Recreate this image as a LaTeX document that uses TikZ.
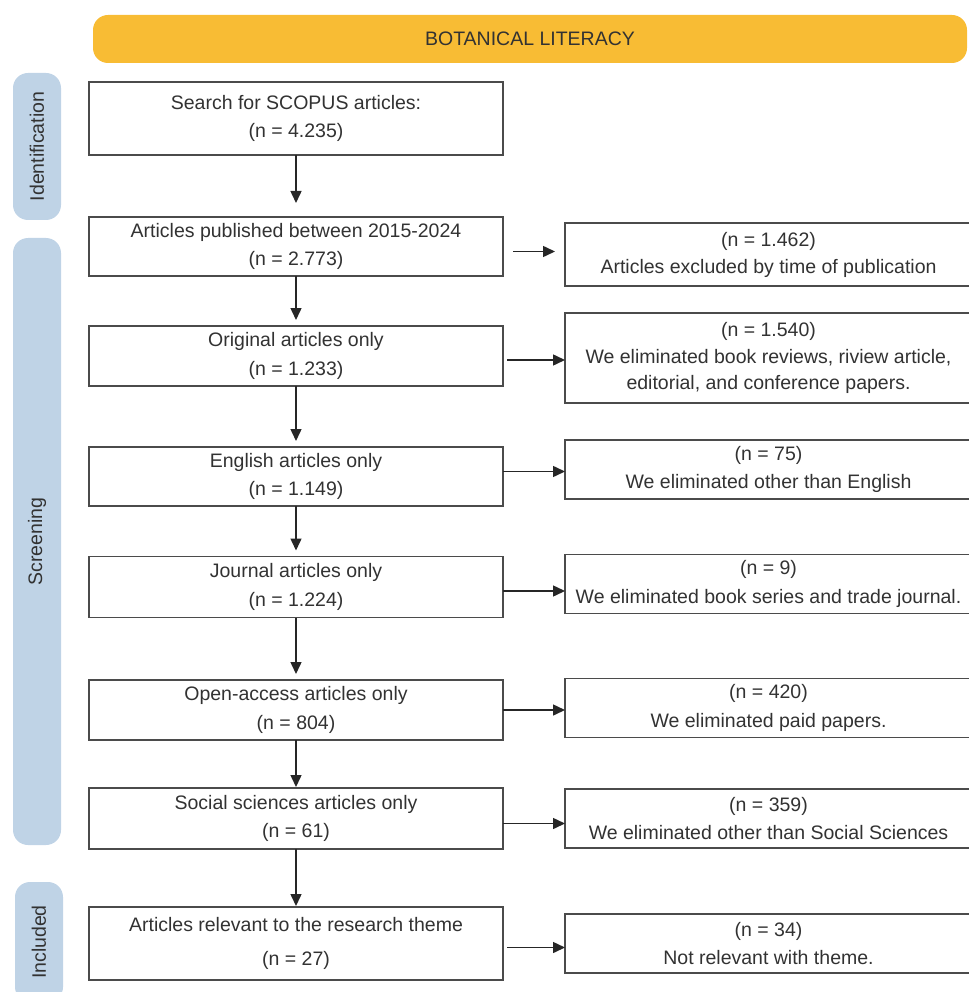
\documentclass[tikz,border=0pt]{standalone}
\usepackage{fontspec}
\setmainfont{Liberation Sans}
\usetikzlibrary{arrows.meta,positioning}
\definecolor{headorange}{RGB}{248,188,52}
\definecolor{phaseblue}{RGB}{191,211,230}
\definecolor{boxline}{RGB}{75,75,75}
\definecolor{txtgray}{RGB}{50,50,50}

\begin{document}
\begin{tikzpicture}[x=1pt, y=-1pt,
    box/.style={draw=boxline, line width=1.6pt, outer sep=0pt, align=center, text=txtgray, inner sep=0pt, minimum width=414pt, font=\fontsize{19.5}{28.5}\selectfont},
    outbox/.style={box, minimum width=407pt, minimum height=59pt},
    phase/.style={fill=phaseblue, rounded corners=15pt, minimum height=48pt, inner sep=0pt, rotate=90, text=txtgray, font=\fontsize{19.5}{24}\selectfont},
    arr/.style={-{Triangle[length=12pt,width=11pt]}, line width=1.5pt, draw=black!85}
  ]
    \useasboundingbox (0,0) rectangle (968,992);
    \node[fill=headorange, rounded corners=15pt, minimum width=874pt, minimum height=48pt, text=txtgray, font=\fontsize{19.5}{24}\selectfont] (title) at (530,39) {BOTANICAL LITERACY};
    % phases
    \node[phase, minimum width=147pt] (ident) at (37,146.5) {Identification};
    \node[phase, minimum width=607pt] (screen) at (37,541.5) {Screening};
    \node[phase, minimum width=120pt] (incl) at (39,942) {Included};
    % main column
    \node[box, minimum height=73pt] (search) at (296,118.5) {Search for SCOPUS articles:\\(n = 4.235)};
    \node[box, minimum height=59pt, below=62pt of search] (pub) {Articles published between 2015-2024\\(n = 2.773)};
    \node[box, minimum height=60pt, below=50pt of pub] (orig) {Original articles only\\(n = 1.233)};
    \node[box, minimum height=59pt, below=61pt of orig] (engl) {English articles only\\(n = 1.149)};
    \node[box, minimum height=61pt, below=50.5pt of engl] (journ) {Journal articles only\\(n = 1.224)};
    \node[box, minimum height=60pt, below=62.5pt of journ] (open) {Open-access articles only\\(n = 804)};
    \node[box, minimum height=61pt, below=48pt of open] (soc) {Social sciences articles only\\(n = 61)};
    \node[box, minimum height=73pt, below=58pt of soc, font=\fontsize{19.5}{34}\selectfont] (rel) {Articles relevant to the research theme\\(n = 27)};
    % excluded column
    \node[outbox, minimum height=63pt, right=62pt of pub, yshift=-8pt, font=\fontsize{19.5}{27}\selectfont] (exTime) {(n = 1.462)\\Articles excluded by time of publication};
    \node[outbox, minimum height=90pt, right=62pt of orig, yshift=-2pt, font=\fontsize{19.5}{26.5}\selectfont] (exType) {(n = 1.540)\\We eliminated book reviews, riview article,\\editorial, and conference papers.};
    \node[outbox, right=62pt of engl, yshift=7pt] (exLang) {(n = 75)\\We eliminated other than English};
    \node[outbox, right=62pt of journ, yshift=3pt] (exSource) {(n = 9)\\We eliminated book series and trade journal.};
    \node[outbox, right=62pt of open, yshift=2pt] (exPaid) {(n = 420)\\We eliminated paid papers.};
    \node[outbox, right=62pt of soc] (exArea) {(n = 359)\\We eliminated other than Social Sciences};
    \node[outbox, right=62pt of rel] (exTheme) {(n = 34)\\Not relevant with theme.};
    % flow
    \draw[arr, shorten >=14pt] (search) -- (pub);
    \draw[arr, shorten >=6pt] (pub) -- (orig);
    \draw[arr, shorten >=6pt] (orig) -- (engl);
    \draw[arr, shorten >=6pt] (engl) -- (journ);
    \draw[arr, shorten >=6pt] (journ) -- (open);
    \draw[arr, shorten >=1pt] (open) -- (soc);
    \draw[arr, shorten >=1pt] (soc) -- (rel);
    \draw[arr, shorten <=10pt, shorten >=10pt] ([yshift=-5pt]pub.east) -- ([yshift=-5pt]pub.east -| exTime.west);
    \draw[arr, shorten <=4pt] ([yshift=-4pt]orig.east) -- ([yshift=-4pt]orig.east -| exType.west);
    \draw[arr] ([yshift=5pt]engl.east) -- ([yshift=5pt]engl.east -| exLang.west);
    \draw[arr] ([yshift=-4pt]journ.east) -- ([yshift=-4pt]journ.east -| exSource.west);
    \draw[arr] (open.east) -- (open.east -| exPaid.west);
    \draw[arr] ([yshift=-5pt]soc.east) -- ([yshift=-5pt]soc.east -| exArea.west);
    \draw[arr, shorten <=4pt] ([yshift=-4pt]rel.east) -- ([yshift=-4pt]rel.east -| exTheme.west);
  \end{tikzpicture}
\end{document}
